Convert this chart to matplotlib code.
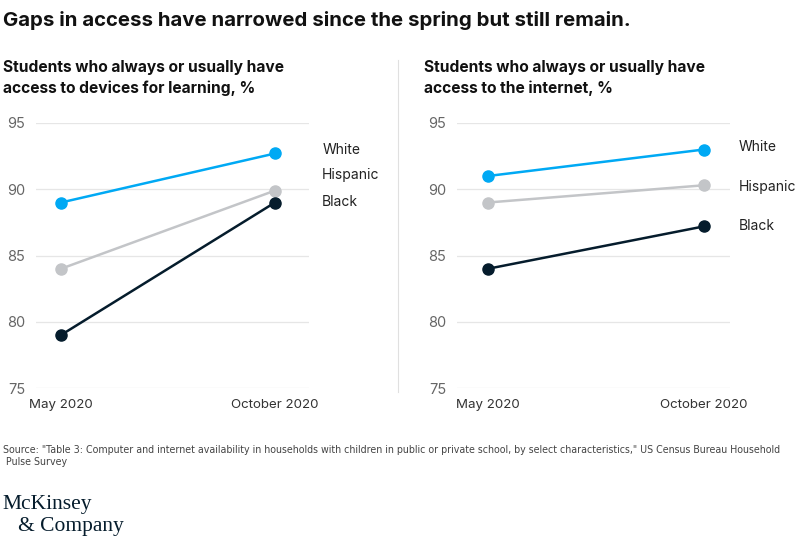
import matplotlib
matplotlib.use('Agg')
import matplotlib.pyplot as plt

# data
periods = ['May 2020', 'October 2020']
groups = ['White', 'Hispanic', 'Black']
devices = {'White': [89, 92.7], 'Hispanic': [84, 89.9], 'Black': [79, 89]}
internet = {'White': [91, 93.0], 'Hispanic': [89, 90.3], 'Black': [84, 87.2]}
y_ticks = [75, 80, 85, 90, 95]

colors = {'White': '#00a9f4', 'Hispanic': '#c3c5c8', 'Black': '#051c2c'}

plt.rcParams['font.family'] = ['Inter', 'DejaVu Sans']

W, H = 804, 544
fig = plt.figure(figsize=(W / 100, H / 100), dpi=100)


def px_axes(x0, y0, x1, y1):
    # pixel box -> figure fraction
    return fig.add_axes([x0 / W, 1 - y1 / H, (x1 - x0) / W, (y1 - y0) / H])


def panel(ax, data, xlim, label_y, label_dx):
    for g in groups:
        ax.plot([0, 1], data[g], color=colors[g], lw=1.8, marker='o', ms=8,
                clip_on=False, zorder=3)
    ax.set_xlim(*xlim)
    ax.set_ylim(75, 95)
    ax.set_yticks(y_ticks)
    ax.set_xticks([0, 1])
    ax.set_xticklabels(periods)
    ax.grid(axis='y', color='#e6e6e6', lw=0.9)
    ax.set_axisbelow(True)
    for s in ax.spines.values():
        s.set_visible(False)
    ax.tick_params(length=0, colors='#333333')
    ax.tick_params(axis='y', pad=8, labelcolor='#666666', labelsize=10.5)
    ax.tick_params(axis='x', pad=8, labelsize=9.6)
    for g, ly in zip(groups, label_y):
        ax.annotate(g, xy=(1, ly), xytext=(label_dx, 0), textcoords='offset points',
                    fontsize=10, color='#222222', va='center', annotation_clip=False)


ax1 = px_axes(36, 123, 309, 388)
panel(ax1, devices, (-0.117, 1.159), [93.0, 91.1, 89.0], 34)

ax2 = px_axes(457, 123, 730, 388)
panel(ax2, internet, (-0.1435, 1.12), [93.2, 90.2, 87.2], 25)

fig.text(3 / W, 1 - 20 / H, 'Gaps in access have narrowed since the spring but still remain.',
         fontsize=14.7, fontweight='bold', color='#111111', va='center')
fig.text(3 / W, 1 - 78 / H, 'Students who always or usually have\naccess to devices for learning, %',
         fontsize=11.2, fontweight='bold', color='#111111', va='center', linespacing=1.38)
fig.text(424 / W, 1 - 78 / H, 'Students who always or usually have\naccess to the internet, %',
         fontsize=11.2, fontweight='bold', color='#111111', va='center', linespacing=1.38)

# divider between panels
fig.add_artist(plt.Line2D([398 / W, 398 / W], [1 - 60 / H, 1 - 392 / H],
                          transform=fig.transFigure, color='#e0e0e0', lw=0.8))

fig.text(3 / W, 1 - 456 / H,
         'Source: "Table 3: Computer and internet availability in households with children in public or private school, '
         'by select characteristics," US Census Bureau Household\n Pulse Survey',
         fontsize=6.85, color='#444444', va='center', linespacing=1.3,
         family=['Liberation Sans Narrow', 'DejaVu Sans'])

fig.text(2 / W, 1 - 505 / H, 'McKinsey', fontsize=15.5, color='#051c2c', va='center',
         family=['Liberation Serif', 'DejaVu Serif'])
fig.text(18 / W, 1 - 527 / H, '& Company', fontsize=15.5, color='#051c2c', va='center',
         family=['Liberation Serif', 'DejaVu Serif'])

fig.savefig('out.png', dpi=100, facecolor='white')
